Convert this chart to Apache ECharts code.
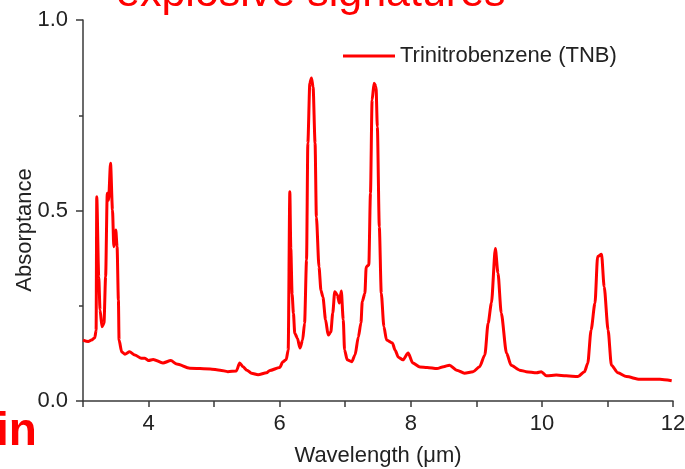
<!DOCTYPE html>
<html>
<head>
<meta charset="utf-8">
<title>TNB absorptance</title>
<script src="https://cdn.jsdelivr.net/npm/echarts@6/dist/echarts.min.js"></script>
<style>
  html, body { margin: 0; padding: 0; background: #fff; }
  #chart { width: 685px; height: 469px; }
</style>
</head>
<body>
<div id="chart"></div>
<script>
// 波长 (um) 和 吸收率, 从图上读出来的
var wavelength = [
  3.00, 3.08, 3.13, 3.18, 3.20, 3.21, 3.24, 3.26, 3.29, 3.32,
  3.345, 3.37, 3.39, 3.42, 3.45, 3.47, 3.50, 3.52, 3.54, 3.55,
  3.59, 3.64, 3.71, 3.79, 3.89, 3.945, 4.00, 4.07, 4.22, 4.34,
  4.43, 4.63, 4.94, 5.09, 5.21, 5.34, 5.39, 5.44, 5.50, 5.57,
  5.67, 5.80, 5.85, 6.00, 6.05, 6.10, 6.13, 6.155, 6.17, 6.19,
  6.21, 6.23, 6.27, 6.31, 6.35, 6.38, 6.41, 6.43, 6.46, 6.485,
  6.51, 6.54, 6.56, 6.60, 6.63, 6.66, 6.70, 6.74, 6.78, 6.81,
  6.84, 6.88, 6.91, 6.94, 6.97, 6.99, 7.03, 7.10, 7.15, 7.20,
  7.24, 7.26, 7.30, 7.32, 7.36, 7.385, 7.41, 7.44, 7.47, 7.49,
  7.52, 7.55, 7.59, 7.63, 7.72, 7.76, 7.81, 7.88, 7.96, 8.03,
  8.14, 8.25, 8.40, 8.50, 8.59, 8.70, 8.82, 8.95, 9.05, 9.13,
  9.18, 9.23, 9.29, 9.33, 9.38, 9.46, 9.53, 9.66, 9.76, 9.92,
  9.99, 10.07, 10.22, 10.37, 10.55, 10.65, 10.70, 10.75, 10.81, 10.85,
  10.91, 10.95, 11.01, 11.06, 11.16, 11.29, 11.49, 11.80, 11.98
]
var absorptance = [
  0.160, 0.156, 0.160, 0.166, 0.186, 0.536, 0.326, 0.239, 0.195, 0.204,
  0.326, 0.545, 0.527, 0.624, 0.501, 0.405, 0.449, 0.405, 0.265, 0.160,
  0.129, 0.123, 0.129, 0.121, 0.112, 0.112, 0.106, 0.109, 0.100, 0.106,
  0.097, 0.086, 0.084, 0.081, 0.077, 0.079, 0.100, 0.090, 0.081, 0.073,
  0.069, 0.074, 0.080, 0.088, 0.103, 0.109, 0.134, 0.549, 0.400, 0.280,
  0.230, 0.178, 0.165, 0.139, 0.160, 0.204, 0.370, 0.677, 0.834, 0.848,
  0.824, 0.677, 0.483, 0.352, 0.290, 0.273, 0.213, 0.173, 0.181, 0.231,
  0.287, 0.278, 0.257, 0.289, 0.213, 0.134, 0.108, 0.103, 0.121, 0.168,
  0.205, 0.261, 0.283, 0.352, 0.357, 0.545, 0.790, 0.834, 0.825, 0.720,
  0.457, 0.283, 0.195, 0.160, 0.152, 0.134, 0.115, 0.108, 0.126, 0.100,
  0.089, 0.088, 0.085, 0.090, 0.094, 0.081, 0.073, 0.077, 0.090, 0.121,
  0.204, 0.257, 0.400, 0.336, 0.231, 0.126, 0.094, 0.081, 0.077, 0.074,
  0.077, 0.066, 0.068, 0.066, 0.064, 0.077, 0.099, 0.186, 0.257, 0.379,
  0.385, 0.300, 0.186, 0.094, 0.074, 0.064, 0.057, 0.057, 0.053
]
var seriesName = 'Trinitrobenzene (TNB)'
var xTicks = [4, 6, 8, 10, 12] // 只有这些刻度有标签

var points = wavelength.map(function (w, i) { return [w, absorptance[i]] })

var font = '"Liberation Sans", Arial, sans-serif'
var axisColor = '#3a3a3a'

var myChart = echarts.init(document.getElementById('chart'), null, { renderer: 'canvas' })
var option = {
  animation: false,
  backgroundColor: '#fff',
  grid: { left: 83, right: 12, top: 20, bottom: 68, containLabel: false, outerBoundsMode: 'none' },
  legend: {
    left: 343,
    top: 45,
    padding: 0,
    icon: 'rect',
    itemWidth: 52,
    itemHeight: 3,
    itemGap: 0,
    textStyle: { fontFamily: font, fontSize: 22, color: '#222' },
    data: [seriesName]
  },
  xAxis: {
    type: 'value',
    min: 3,
    max: 12,
    interval: 1,
    name: 'Wavelength (\u03bcm)',
    nameLocation: 'middle',
    nameGap: 44,
    nameTextStyle: { fontFamily: font, fontSize: 22, color: '#222' },
    axisLine: { show: true, lineStyle: { color: axisColor, width: 1.5 } },
    axisTick: { show: true, length: 6, lineStyle: { color: axisColor, width: 1.5 } },
    axisLabel: {
      fontFamily: font,
      fontSize: 22,
      color: '#222',
      margin: 12,
      formatter: function (v) { return xTicks.indexOf(v) >= 0 ? String(v) : '' }
    },
    splitLine: { show: false }
  },
  yAxis: {
    type: 'value',
    min: 0,
    max: 1,
    interval: 0.5,
    axisLine: { show: true, lineStyle: { color: axisColor, width: 1.5 } },
    axisTick: { show: true, length: 7, lineStyle: { color: axisColor, width: 1.5 } },
    minorTick: { show: true, splitNumber: 2, length: 4, lineStyle: { color: axisColor, width: 1.5 } },
    axisLabel: {
      fontFamily: font,
      fontSize: 22,
      color: '#222',
      margin: 15,
      formatter: function (v) { return v.toFixed(1) }
    },
    splitLine: { show: false }
  },
  series: [
    {
      name: seriesName,
      type: 'line',
      symbol: 'none',
      smooth: 0.25,
      smoothMonotone: 'x',
      data: points,
      lineStyle: { color: '#ff0000', width: 3, join: 'round' },
      itemStyle: { color: '#ff0000' }
    }
  ],
  graphic: [
    {
      // y轴标题, 原图里稍微偏下
      type: 'text',
      x: 25,
      y: 230,
      rotation: Math.PI / 2,
      style: { text: 'Absorptance', fill: '#222', align: 'center', verticalAlign: 'middle', font: '22px "Liberation Sans", Arial, sans-serif' }
    },
    {
      // 幻灯片上被截掉的标题
      type: 'text',
      left: 116,
      top: -27,
      style: { text: 'explosive signatures', fill: '#ff0000', font: '43px "Liberation Sans", Arial, sans-serif' }
    },
    {
      type: 'text',
      left: -4,
      top: 409,
      style: { text: 'in', fill: '#ff0000', font: 'bold 46px "Liberation Sans", Arial, sans-serif' }
    }
  ]
}
myChart.setOption(option)
</script>
</body>
</html>
